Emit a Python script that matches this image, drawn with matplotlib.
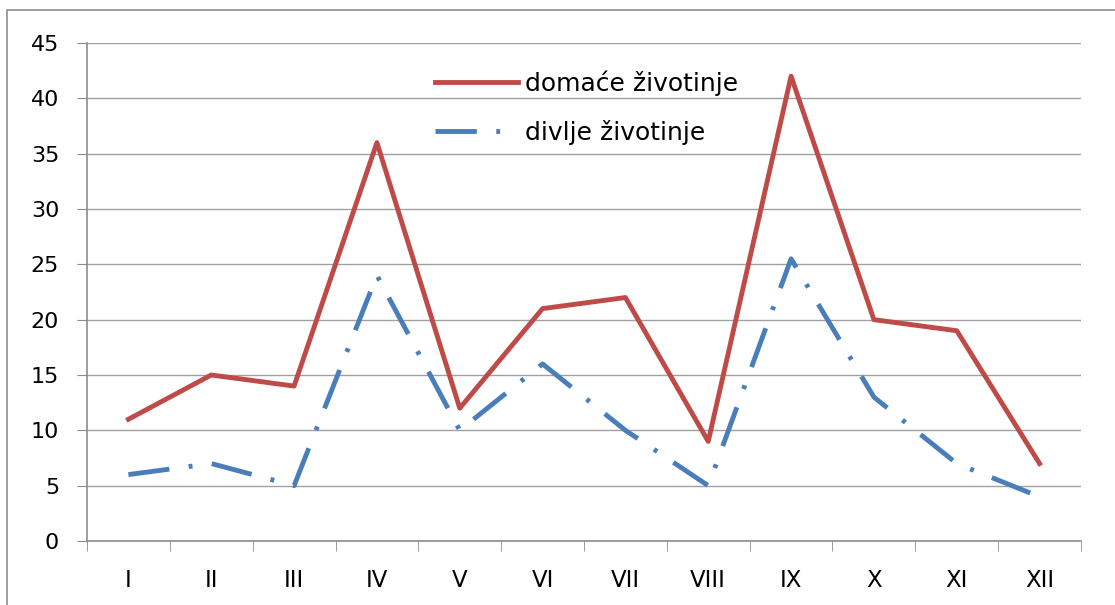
import numpy as np
import matplotlib.pyplot as plt
from matplotlib.patches import Rectangle

months = ['I', 'II', 'III', 'IV', 'V', 'VI', 'VII', 'VIII', 'IX', 'X', 'XI', 'XII']
domace = [11, 15, 14, 36, 12, 21, 22, 9, 42, 20, 19, 7]
divlje = [6, 7, 5, 24, 10, 16, 10, 5, 25.5, 13, 7, 4]

plt.rcParams['font.family'] = ['DejaVu Sans']

fig = plt.figure(figsize=(11.15, 6.05), dpi=100)
ax = fig.add_axes([87/1115, 1 - 541/605, (1081-87)/1115, (541-43)/605])

# outer chart border (cut off at right and bottom in the original)
fig.patches.append(Rectangle((7/1115, -0.1), 1.2, 1 - 10/605 + 0.1,
                             transform=fig.transFigure, fill=False,
                             ec='#8c8c8c', lw=1.2))

x = np.arange(len(months))
ax.plot(x, domace, color='#be4b48', lw=3.5, label='domaće životinje')
ax.plot(x, divlje, color='#4a7ebb', lw=3.5, dashes=(8.5, 4, 0.8, 4),
        label='divlje životinje')

ax.set_xlim(-0.5, len(months) - 0.5)
ax.set_ylim(0, 45)
ax.set_yticks(range(0, 46, 5))
ax.set_xticks(x)
ax.set_xticklabels(months)
ax.set_xticks(np.arange(-0.5, len(months), 1), minor=True)
ax.tick_params(axis='x', which='major', length=0, pad=20, labelsize=16.5)
ax.tick_params(axis='x', which='minor', length=7, color='#8c8c8c', direction='out')
ax.tick_params(axis='y', length=7, color='#8c8c8c', labelsize=16, pad=13)
ax.grid(axis='y', color='#a0a0a0', lw=1)
ax.set_axisbelow(True)
for s in ['top', 'right']:
    ax.spines[s].set_visible(False)
for s in ['left', 'bottom']:
    ax.spines[s].set_color('#8c8c8c')
    ax.spines[s].set_linewidth(1.2)

ax.legend(loc='upper left', bbox_to_anchor=(0.33, 0.985), frameon=False,
          fontsize=18, handlelength=3.3, handletextpad=0.3, labelspacing=0.95,
          borderpad=0.3)

fig.savefig('out.png', dpi=100)
